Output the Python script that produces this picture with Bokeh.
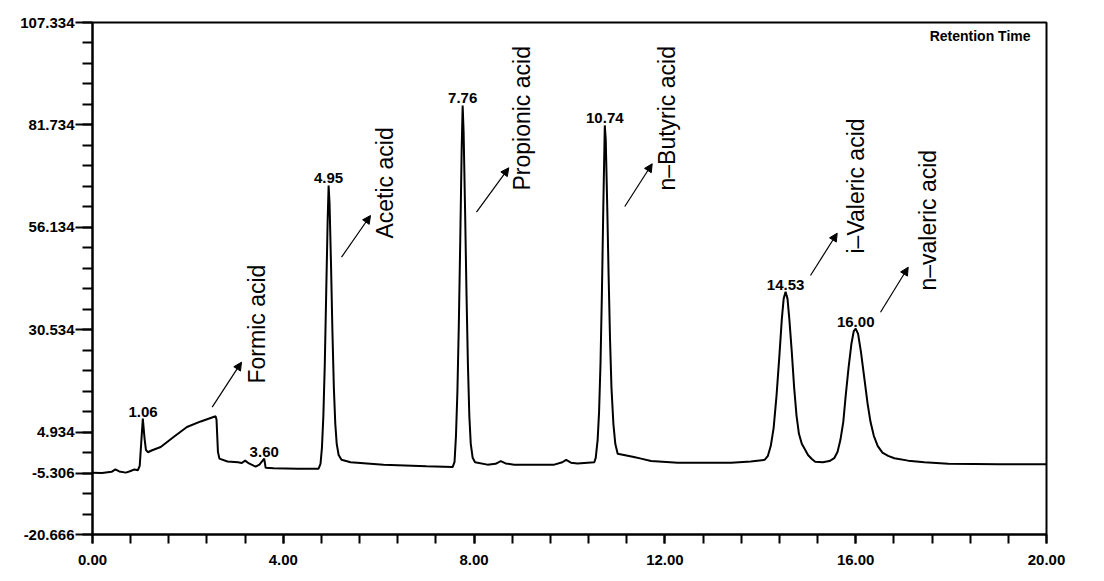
import numpy as np
from bokeh.plotting import figure
from bokeh.models import (Range1d, FixedTicker, Label, Arrow, NormalHead,
                          ColumnDataSource, NumeralTickFormatter)
from bokeh.core.properties import value
from bokeh.embed import file_html
from bokeh.resources import INLINE

# ---------------- data ----------------
time = [0.00, 0.20, 0.40, 0.48, 0.56, 0.70, 0.80, 0.88, 0.95, 0.99, 1.02, 1.055, 1.09, 1.12, 1.16,
        1.25, 1.43, 1.70, 1.98, 2.27, 2.58, 2.60, 2.63, 2.66, 2.83, 3.05, 3.13, 3.20, 3.28, 3.42,
        3.50, 3.60, 3.63, 3.80, 4.30, 4.74,
        4.78, 4.81, 4.84, 4.87, 4.90, 4.93, 4.95, 4.97, 5.00, 5.03, 5.06, 5.09, 5.12, 5.16, 5.22,
        5.41, 6.10, 7.00, 7.55,
        7.59, 7.62, 7.65, 7.68, 7.71, 7.74, 7.76, 7.78, 7.81, 7.84, 7.87, 7.90, 7.93, 7.97, 8.02,
        8.28, 8.45, 8.56, 8.66, 8.84, 9.68, 9.85, 9.93, 10.03, 10.17, 10.52,
        10.55, 10.59, 10.62, 10.65, 10.68, 10.71, 10.74, 10.76, 10.79, 10.82, 10.85, 10.88, 10.92,
        10.96, 11.01, 11.35, 11.50, 11.71, 12.27, 13.39, 13.80, 14.09,
        14.16, 14.22, 14.28, 14.34, 14.40, 14.45, 14.49, 14.53, 14.57, 14.61, 14.66, 14.71, 14.76,
        14.81, 14.87, 14.94, 15.00, 15.08, 15.15, 15.31, 15.45, 15.55,
        15.62, 15.68, 15.74, 15.79, 15.85, 15.91, 15.96, 16.00, 16.05, 16.11, 16.18, 16.25, 16.31,
        16.38, 16.46, 16.56, 16.68, 16.81, 17.10, 17.44, 17.94, 19.00, 20.00]
signal = [-5.2, -5.3, -5.0, -4.4, -4.9, -5.2, -4.8, -4.4, -4.6, -3.5, 2.0, 8.3, 3.5, 0.5, -0.1,
          0.4, 1.2, 3.7, 6.2, 7.6, 8.9, 8.0, 0.0, -1.7, -2.4, -2.6, -2.8, -2.2, -2.9, -3.7,
          -3.2, -1.7, -4.0, -4.1, -4.2, -4.2,
          -3.0, 1.0, 9.0, 22.0, 40.0, 58.0, 66.6, 62.0, 47.0, 30.0, 16.0, 7.0, 2.0, -0.8, -2.0,
          -2.6, -3.2, -3.6, -3.8,
          -2.5, 4.0, 15.0, 32.0, 53.0, 76.0, 86.6, 80.0, 61.0, 40.0, 22.0, 9.0, 2.0, -1.5, -2.6,
          -3.2, -3.0, -2.3, -2.9, -3.2, -3.2, -2.6, -2.0, -2.7, -2.9, -2.6,
          -1.5, 3.0, 10.0, 22.0, 40.0, 62.0, 81.6, 78.0, 62.0, 44.0, 28.0, 16.0, 7.0,
          2.0, -0.5, -1.3, -1.7, -2.3, -2.7, -2.7, -2.4, -2.0,
          -1.0, 1.5, 6.0, 14.0, 24.0, 33.0, 38.3, 40.0, 38.3, 33.0, 25.0, 16.0, 9.0,
          4.5, 2.0, 0.5, -0.8, -1.8, -2.5, -2.6, -2.3, -1.6,
          0.0, 3.0, 7.5, 14.0, 21.0, 27.0, 30.2, 30.8, 29.5, 25.0, 18.5, 12.0, 7.5,
          4.0, 1.5, -0.2, -1.0, -1.6, -2.2, -2.6, -3.0, -3.1, -3.1]

peak_times = [1.06, 3.60, 4.95, 7.76, 10.74, 14.53, 16.00]
peak_heights = [8.3, -1.7, 66.6, 86.6, 81.6, 40.0, 30.8]
peak_labels = [f"{t:.2f}" for t in peak_times]

compound_names = ["Formic acid", "Acetic acid", "Propionic acid",
                  "n\u2013Butyric acid", "i\u2013Valeric acid", "n\u2013valeric acid"]

y_tick_values = [-20.666, -5.306, 4.934, 30.534, 56.134, 81.734, 107.334]
x_tick_values = [0, 4, 8, 12, 16, 20]

# ---------------- annotation placement (layout, not data) ----------------
name_x = [3.45, 6.14, 9.00, 12.04, 16.00, 17.52]
name_y = [17.08, 53.33, 65.33, 65.33, 49.58, 40.33]
arrow_x0 = [2.509, 5.220, 8.050, 11.159, 15.052, 16.520]
arrow_y0 = [11.16, 48.66, 59.91, 61.33, 44.08, 34.91]
arrow_x1 = [3.124, 5.828, 8.727, 11.734, 15.612, 17.101]
arrow_y1 = [22.41, 59.08, 71.01, 72.01, 54.66, 46.16]

FONT = "Liberation Sans"

p = figure(width=1104, height=581, output_backend="svg", toolbar_location=None,
           x_range=Range1d(0, 20), y_range=Range1d(-20.666, 107.334))
p.min_border_left = 92
p.min_border_right = 58
p.min_border_top = 22
p.min_border_bottom = 47
p.background_fill_color = "white"
p.border_fill_color = "white"
p.xgrid.visible = False
p.ygrid.visible = False
p.outline_line_color = "black"
p.outline_line_width = 2
p.outline_line_alpha = 1.0

# axes
minor_y = [round(-20.666 + 5.12 * k, 3) for k in range(26)]
minor_x = [round(0.8 * k, 2) for k in range(26)]
p.yaxis.ticker = FixedTicker(ticks=y_tick_values, minor_ticks=minor_y)
p.xaxis.ticker = FixedTicker(ticks=x_tick_values, minor_ticks=minor_x)
p.yaxis.formatter = NumeralTickFormatter(format="0.000")
p.xaxis.formatter = NumeralTickFormatter(format="0.00")
for ax in (p.xaxis, p.yaxis):
    ax.axis_line_width = 2
    ax.axis_line_color = "black"
    ax.major_tick_line_width = 2
    ax.minor_tick_line_width = 2
    ax.major_tick_line_color = "black"
    ax.minor_tick_line_color = "black"
    ax.major_tick_in = 0
    ax.minor_tick_in = 0
    ax.major_label_text_font = FONT
    ax.major_label_text_font_style = "bold"
    ax.major_label_text_font_size = "15px"
    ax.major_label_text_color = "black"
p.yaxis.major_tick_out = 17
p.yaxis.minor_tick_out = 10
p.yaxis.major_label_standoff = 1
p.xaxis.major_tick_out = 9
p.xaxis.minor_tick_out = 9
p.xaxis.major_label_standoff = 11

# trace
src = ColumnDataSource(dict(t=time, s=signal))
p.line("t", "s", source=src, line_color="black", line_width=2)

# peak retention-time labels
p.text(x=peak_times, y=peak_heights, text=peak_labels, text_align="center",
       text_baseline="bottom", y_offset=-2, text_font=value(FONT),
       text_font_style="bold", text_font_size="15px", text_color="black")

# compound names (rotated)
p.text(x=name_x, y=name_y, text=compound_names, angle=np.pi / 2, text_align="left",
       text_baseline="alphabetic", text_font=value(FONT), text_font_size="23px",
       text_color="black")

# arrows
for xs, ys, xe, ye in zip(arrow_x0, arrow_y0, arrow_x1, arrow_y1):
    p.add_layout(Arrow(end=NormalHead(size=8, fill_color="black", line_color="black", line_width=1),
                       x_start=xs, y_start=ys, x_end=xe, y_end=ye,
                       line_color="black", line_width=1.2))

# corner caption
p.add_layout(Label(x=19.665, y=104.08, text="Retention Time", text_align="right",
                   text_baseline="alphabetic", text_font=FONT, text_font_style="bold",
                   text_font_size="14px", text_color="black"))

open("out.html", "w").write(file_html(p, INLINE))
